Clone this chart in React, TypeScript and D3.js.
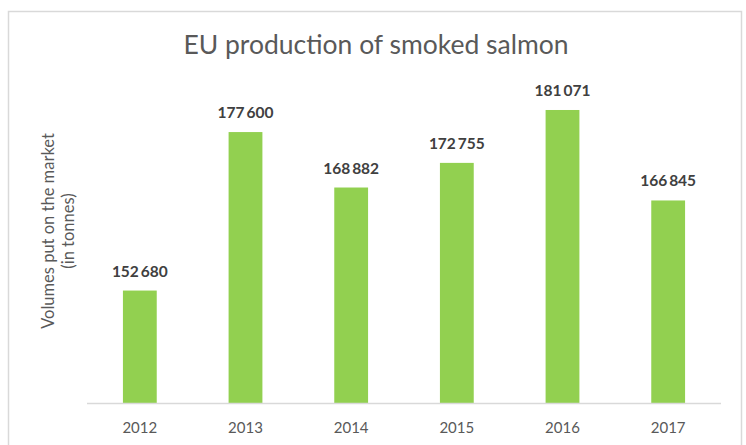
import * as d3 from "d3";

const years = ["2012", "2013", "2014", "2015", "2016", "2017"];
const volumes = [152680, 177600, 168882, 172755, 181071, 166845];
const yDomain = [135000, 185000];

const W = 746;
const H = 445;
const plot = { left: 87, right: 721, top: 85, bottom: 403 };
const font = "Lato, 'Open Sans', sans-serif";

// space as thousands separator, like the source ("152 680")
const fmt = (v: number) => d3.format(",")(v).replace(/,/g, "\u2009");

export default function App() {
	const x = d3.scaleBand().domain(years).range([plot.left, plot.right]).padding(0);
	const y = d3.scaleLinear().domain(yDomain).range([plot.bottom, plot.top]);
	const barW = x.bandwidth() * 0.32;

	return (
		<svg
			width={W}
			height={H}
			style={{ position: "absolute", left: 0, top: 0, background: "#fff" }}
			fontFamily={font}
		>
			<rect x={8.5} y={11.5} width={733} height={450} fill="#fff" stroke="#d9d9d9" strokeWidth={1.5} />

			<text x={376} y={54} textAnchor="middle" fontSize={26.5} fill="#595959">
				EU production of smoked salmon
			</text>

			<g transform="translate(54, 231) rotate(-90)" fill="#595959" fontSize={16.5} textAnchor="middle">
				<text x={0} y={0}>Volumes put on the market</text>
				<text x={0} y={20}>(in tonnes)</text>
			</g>

			{years.map((yr, i) => {
				const cx = (x(yr) ?? 0) + x.bandwidth() / 2;
				const top = y(volumes[i]);
				return (
					<g key={yr}>
						<rect x={cx - barW / 2} y={top} width={barW} height={plot.bottom - top} fill="#92d050" />
						<text x={cx} y={top - 14} textAnchor="middle" fontSize={15.5} fontWeight="bold" fill="#404040">
							{fmt(volumes[i])}
						</text>
						<text x={cx} y={433} textAnchor="middle" fontSize={15} fill="#595959">
							{yr}
						</text>
					</g>
				);
			})}

			<line x1={plot.left} x2={plot.right} y1={plot.bottom + 0.5} y2={plot.bottom + 0.5} stroke="#d9d9d9" strokeWidth={1.5} />
		</svg>
	);
}
